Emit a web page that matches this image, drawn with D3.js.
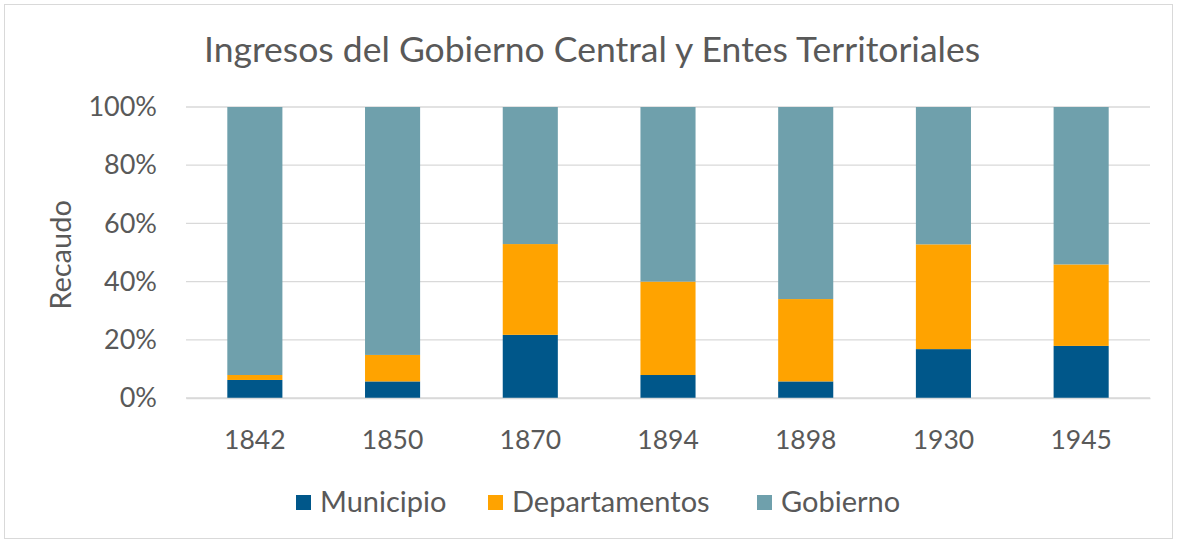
<!DOCTYPE html>
<html><head><meta charset="utf-8">
<script src="https://cdn.jsdelivr.net/npm/d3@7"></script>
<style>body{margin:0;background:#fff}svg{display:block}text{font-family:Lato,"Open Sans",sans-serif;fill:#595959}</style>
</head><body>
<svg id="c" width="1178" height="544"></svg>
<script>
const categories = ["1842","1850","1870","1894","1898","1930","1945"];
const seriesNames = ["Municipio","Departamentos","Gobierno"];
const municipio = [6.2, 5.7, 21.7, 7.9, 5.7, 16.8, 17.9];
const departamentos = [1.7, 9.1, 31.2, 32.1, 28.3, 36.0, 28.0];
const gobierno = [92.1, 85.2, 47.1, 60.0, 66.0, 47.2, 54.1];
const yTicks = [0, 0.2, 0.4, 0.6, 0.8, 1];
const colors = ["#00578A", "#FFA300", "#6FA0AC"];

(function(){
const svg = d3.select("#c");
svg.append("rect").attr("x",4.5).attr("y",4.5).attr("width",1168).attr("height",534)
  .attr("fill","#fff").attr("stroke","#d9d9d9");

const pL = 186, pR = 1150, pT = 107, pB = 398;
const x = d3.scaleBand().domain(categories).range([pL, pR]).paddingInner(0.6).paddingOuter(0.3);
const y = d3.scaleLinear().domain([0,1]).range([pB, pT]);

const rows = categories.map((c,i)=>({cat:c, Municipio:municipio[i], Departamentos:departamentos[i], Gobierno:gobierno[i]}));
const stacked = d3.stack().keys(seriesNames).offset(d3.stackOffsetExpand)(rows);

svg.append("g").selectAll("line").data(yTicks).join("line")
  .attr("x1",pL).attr("x2",pR).attr("y1",d=>y(d)).attr("y2",d=>y(d))
  .attr("stroke","#d9d9d9").attr("stroke-width",1.3);

svg.append("g").selectAll("g").data(stacked).join("g")
  .attr("fill",(d,i)=>colors[i])
  .selectAll("rect").data(d=>d).join("rect")
  .attr("x",d=>x(d.data.cat)).attr("width",x.bandwidth())
  .attr("y",d=>y(d[1])).attr("height",d=>y(d[0])-y(d[1]));

const ya = svg.append("g").attr("transform",`translate(${pL},0)`)
  .call(d3.axisLeft(y).tickValues(yTicks).tickFormat(d3.format(".0%")).tickSize(0).tickPadding(29));
ya.select(".domain").remove();
ya.selectAll("text").style("font-size","27px").attr("fill","#595959").style("font-family","Lato,sans-serif");

const xa = svg.append("g").attr("transform",`translate(0,${pB})`)
  .call(d3.axisBottom(x).tickSize(0).tickPadding(32));
xa.select(".domain").attr("stroke","#d9d9d9").attr("stroke-width",1.3);
xa.selectAll("text").style("font-size","26.5px").attr("fill","#595959").style("font-family","Lato,sans-serif");

svg.append("text").attr("x",592).attr("y",62).attr("text-anchor","middle")
  .style("font-size","35.5px").text("Ingresos del Gobierno Central y Entes Territoriales");

svg.append("text").attr("transform","translate(71,255) rotate(-90)").attr("text-anchor","middle")
  .style("font-size","29px").text("Recaudo");

const legX = [296, 488, 757];
const lg = svg.append("g").selectAll("g").data(seriesNames).join("g")
  .attr("transform",(d,i)=>`translate(${legX[i]},502)`);
lg.append("rect").attr("x",0).attr("y",-7).attr("width",15).attr("height",15).attr("fill",(d,i)=>colors[i]);
lg.append("text").attr("x",24).attr("y",0).attr("dy","0.35em").style("font-size","29px").text(d=>d);
})();
</script>
</body></html>
